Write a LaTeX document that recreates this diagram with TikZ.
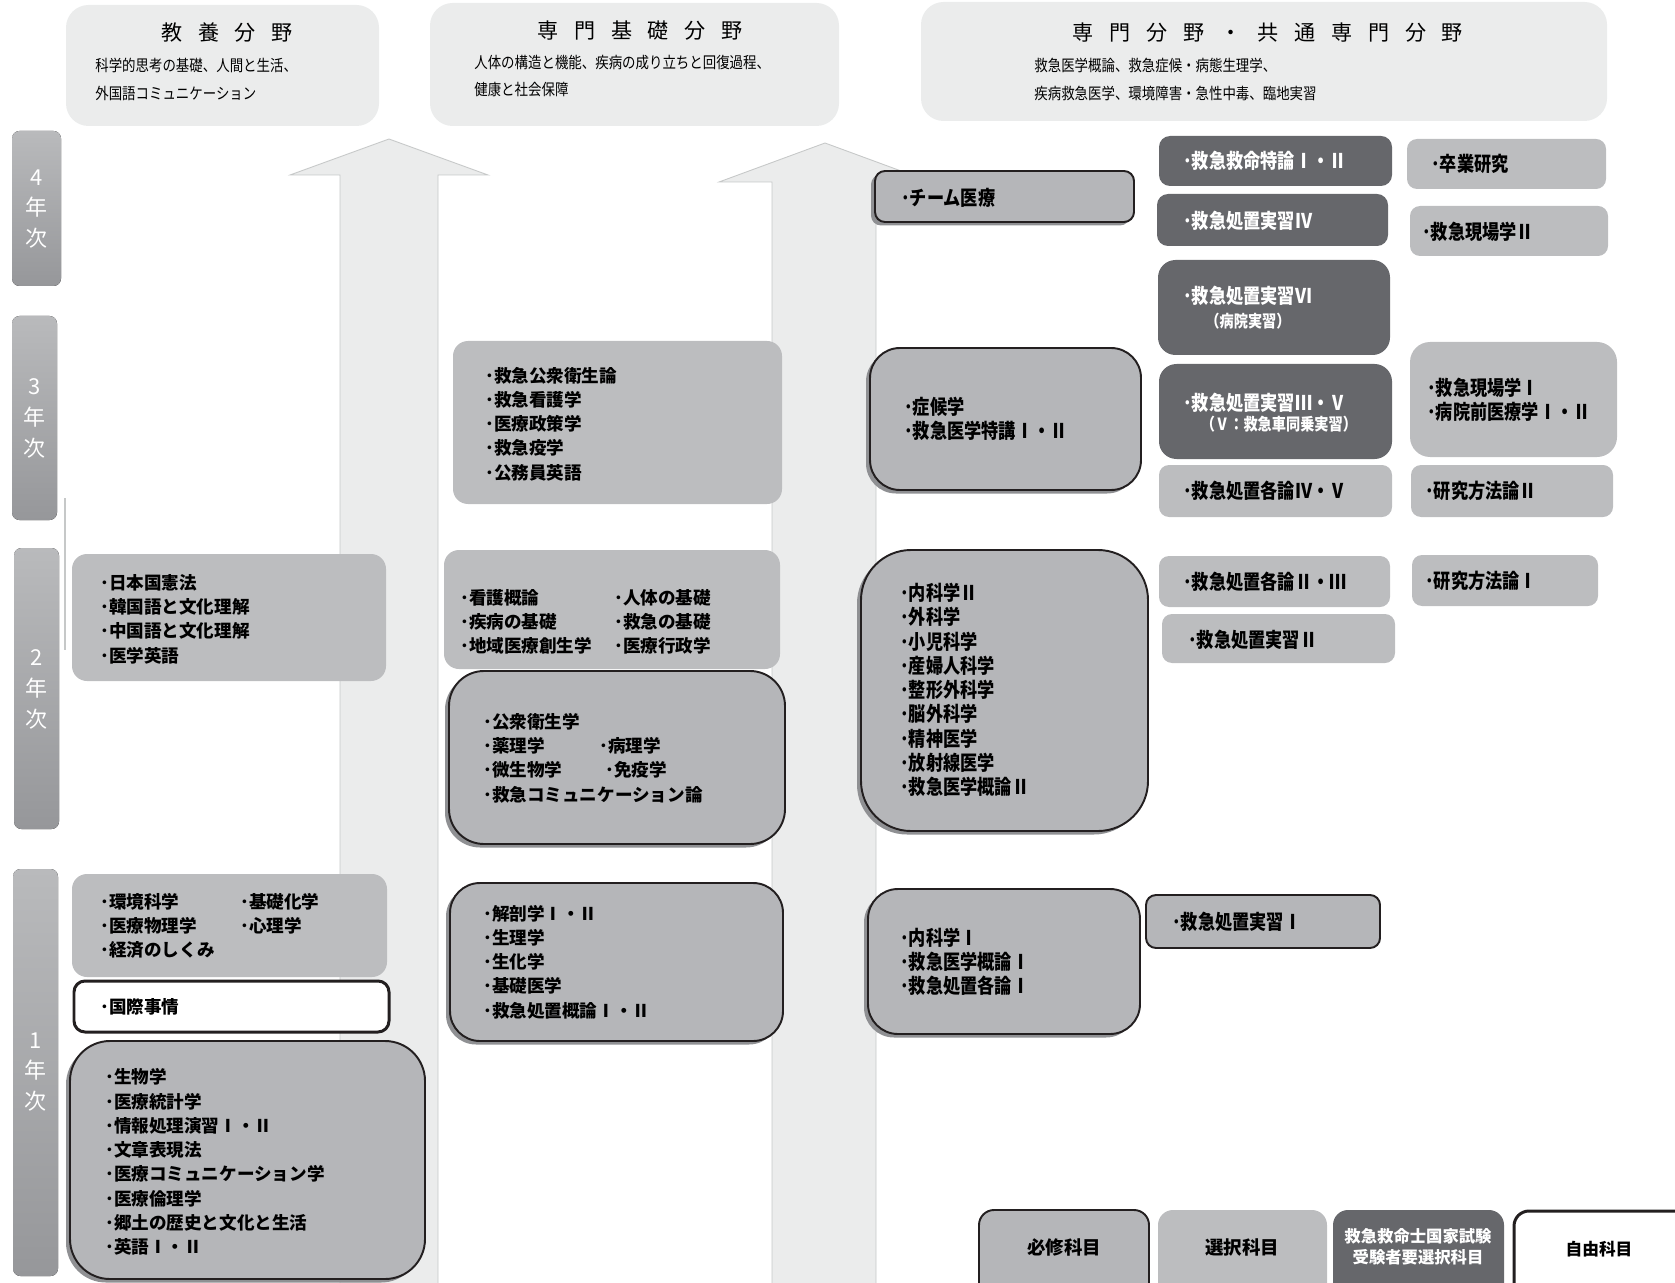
\documentclass[tikz,border=0pt]{standalone}
\usepackage{fontspec}
\setmainfont{Noto Sans CJK JP}
\newfontfamily\jpnarrow{Noto Sans CJK JP}[FakeStretch=0.85]
\newfontfamily\jptitle{Noto Sans CJK JP}[LetterSpace=75]
\usetikzlibrary{shadows}

\definecolor{headfill}{HTML}{EBECEC}
\definecolor{arrowline}{HTML}{C6C8C8}
\definecolor{lightfill}{HTML}{BCBDBF}
\definecolor{framefill}{HTML}{B5B6B9}
\definecolor{darkfill}{HTML}{66676B}
\definecolor{barTop}{HTML}{B9BABC}
\definecolor{barBot}{HTML}{96979A}
\definecolor{inkline}{HTML}{231F20}
\definecolor{shadegray}{HTML}{8F9093}

\begin{document}
\begin{tikzpicture}[x=0.02cm,y=-0.02cm,
  headbox/.style={fill=headfill,rounded corners=0.45cm},
  yearbar/.style={top color=barTop,bottom color=barBot,rounded corners=0.15cm},
  arrowbody/.style={fill=headfill,draw=arrowline,line width=0.5pt},
  lightbox/.style={fill=lightfill,rounded corners=0.3cm},
  framebox/.style={fill=framefill,draw=inkline,line width=1.1pt},
  shadowed/.style={drop shadow={shadow xshift=-0.08cm,shadow yshift=-0.07cm,fill=shadegray,opacity=1}},
  darkbox/.style={fill=darkfill,rounded corners=0.22cm},
  whitebox/.style={fill=white,draw=inkline,line width=1.7pt},
  yeartxt/.style={text=white,align=center,inner sep=0pt,font=\fontsize{12.5}{17.6}\selectfont},
  headtitle/.style={inner sep=0pt,font=\jptitle\fontsize{12}{14}\selectfont},
  headsub/.style={anchor=west,inner sep=0pt,font=\jpnarrow\fontsize{9}{11}\selectfont},
  subj/.style={anchor=west,align=left,inner sep=0pt,font=\bfseries\fontsize{10}{13.8}\selectfont},
  subjn/.style={anchor=west,align=left,inner sep=0pt,font=\jpnarrow\bfseries\fontsize{11.5}{13.8}\selectfont},
  subjw/.style={subjn,text=white},
  legendtxt/.style={inner sep=0pt,align=center,font=\bfseries\fontsize{10.5}{12}\selectfont}]

\useasboundingbox (0,0) rectangle (1675,1283);
\clip (0,0) rectangle (1675,1283);

% field headers
\fill[headbox] (66,5) rectangle (379,126);
\fill[headbox] (430,3) rectangle (839,126);
\fill[headbox] (921,2) rectangle (1607,121);
\node[headtitle] (kyoyo) at (227,33) {教養分野};
\node[headsub] (kyoyo1) at (95,65) {科学的思考の基礎、人間と生活、};
\node[headsub] (kyoyo2) at (95,93) {外国語コミュニケーション};
\node[headtitle] (kiso) at (640,31) {専門基礎分野};
\node[headsub] (kiso1) at (474,63) {人体の構造と機能、疾病の成り立ちと回復過程、};
\node[headsub] (kiso2) at (474,90) {健康と社会保障};
\node[headtitle] (senmon) at (1268,33) {専門分野・共通専門分野};
\node[headsub] (senmon1) at (1034,65) {救急医学概論、救急症候・病態生理学、};
\node[headsub] (senmon2) at (1034,93) {疾病救急医学、環境障害・急性中毒、臨地実習};

% big arrows
\filldraw[arrowbody] (340,1290) -- (340,175) -- (290,175) -- (389,139) -- (488,175) -- (438,175) -- (438,1290);
\filldraw[arrowbody] (772,1290) -- (772,182) -- (719,182) -- (825,143) -- (931,182) -- (876,182) -- (876,1290);
\draw[arrowline,line width=0.6pt] (65,498) -- (65,650);

% year bars
\fill[yearbar] (12,131) rectangle (61,286);
\fill[yearbar] (12,316) rectangle (57,520);
\fill[yearbar] (14,548) rectangle (59,829);
\fill[yearbar] (13,869) rectangle (58,1276);
\node[yeartxt] (yr4) at (36.5,209) {4\\年\\次};
\node[yeartxt] (yr3) at (34.5,418) {3\\年\\次};
\node[yeartxt] (yr2) at (36.5,689) {2\\年\\次};
\node[yeartxt] (yr1) at (35.5,1072) {1\\年\\次};

% kyoyo column
\fill[lightbox] (72,554) rectangle (386,681);
\node[subj] (kenpo) at (100,619) {･日本国憲法\\･韓国語と文化理解\\･中国語と文化理解\\･医学英語};
\fill[lightbox] (72,874) rectangle (387,977);
\node[subj] (kankyo) at (100,926) {･環境科学\\･医療物理学\\･経済のしくみ};
\node[subj] (kagaku) at (240,914) {･基礎化学\\･心理学};
\draw[whitebox,rounded corners=0.22cm] (74,981) rectangle (389,1032);
\node[subj] (kokusai) at (100,1007) {･国際事情};
\draw[framebox,shadowed,rounded corners=0.8cm] (70,1041) rectangle (425,1279);
\node[subj] (seibutsu) at (105,1162) {･生物学\\･医療統計学\\･情報処理演習Ⅰ・Ⅱ\\･文章表現法\\･医療コミュニケーション学\\･医療倫理学\\･郷土の歴史と文化と生活\\･英語Ⅰ・Ⅱ};

% kiso column
\fill[lightbox] (453,341) rectangle (782,504);
\node[subj] (koshu) at (485,424) {･救急公衆衛生論\\･救急看護学\\･医療政策学\\･救急疫学\\･公務員英語};
\fill[lightbox] (444,550) rectangle (780,669);
\node[subj] (kango) at (460,622) {･看護概論\\･疾病の基礎\\･地域医療創生学};
\node[subj] (jintai) at (614,622) {･人体の基礎\\･救急の基礎\\･医療行政学};
\draw[framebox,shadowed,rounded corners=0.7cm] (449,671) rectangle (785,844);
\node[subj] (eisei) at (483,758) {･公衆衛生学\\･薬理学\\･微生物学\\･救急コミュニケーション論};
\node[subj] (byori) at (599,746) {･病理学};
\node[subj] (meneki) at (605,770) {･免疫学};
\draw[framebox,shadowed,rounded corners=0.6cm] (450,883) rectangle (783,1041);
\node[subj] (kaibo) at (483,962) {･解剖学Ⅰ・Ⅱ\\･生理学\\･生化学\\･基礎医学\\･救急処置概論Ⅰ・Ⅱ};

% senmon column
\draw[framebox,shadowed,rounded corners=0.2cm] (875,171) rectangle (1134,222);
\node[subjn] (team) at (901,198) {･チーム医療};
\draw[framebox,shadowed,rounded corners=0.6cm] (870,348) rectangle (1141,490);
\node[subjn] (shoko) at (904,419) {･症候学\\･救急医学特講Ⅰ・Ⅱ};
\draw[framebox,shadowed,rounded corners=1cm] (861,550) rectangle (1148,831);
\node[subjn] (naika2) at (900,690) {･内科学Ⅱ\\･外科学\\･小児科学\\･産婦人科学\\･整形外科学\\･脳外科学\\･精神医学\\･放射線医学\\･救急医学概論Ⅱ};
\draw[framebox,shadowed,rounded corners=0.6cm] (868,889) rectangle (1140,1034);
\node[subjn] (naika1) at (900,962) {･内科学Ⅰ\\･救急医学概論Ⅰ\\･救急処置各論Ⅰ};

% practice column
\fill[darkbox] (1159,136) rectangle (1392,186);
\node[subjw] (tokuron) at (1183,161) {･救急救命特論Ⅰ・Ⅱ};
\fill[darkbox] (1157,194) rectangle (1388,246);
\node[subjw] (jisshu4) at (1183,221) {･救急処置実習Ⅳ};
\fill[darkbox,rounded corners=0.35cm] (1158,260) rectangle (1390,355);
\node[subjw] (jisshu6) at (1183,296) {･救急処置実習Ⅵ};
\node[subjw,anchor=center,font=\jpnarrow\bfseries\fontsize{9.5}{12}\selectfont] (byoin) at (1248,321) {（病院実習）};
\fill[darkbox,rounded corners=0.35cm] (1159,364) rectangle (1392,459);
\node[subjw] (jisshu35) at (1183,403) {･救急処置実習Ⅲ・Ⅴ};
\node[subjw,anchor=center,font=\jpnarrow\bfseries\fontsize{9.5}{12}\selectfont] (dojo) at (1279,424) {（Ⅴ：救急車同乗実習）};
\fill[lightbox,rounded corners=0.2cm] (1159,465) rectangle (1392,517);
\node[subjn] (kakuron45) at (1183,491) {･救急処置各論Ⅳ・Ⅴ};
\fill[lightbox,rounded corners=0.2cm] (1159,556) rectangle (1390,607);
\node[subjn] (kakuron23) at (1183,582) {･救急処置各論Ⅱ・Ⅲ};
\fill[lightbox,rounded corners=0.2cm] (1162,614) rectangle (1395,663);
\node[subjn] (jisshu2) at (1188,640) {･救急処置実習Ⅱ};
\draw[framebox,rounded corners=0.2cm] (1146,895) rectangle (1380,948);
\node[subjn] (jisshu1) at (1172,922) {･救急処置実習Ⅰ};

% right column
\fill[lightbox,rounded corners=0.2cm] (1407,139) rectangle (1606,189);
\node[subjn] (sotsugyo) at (1431,164) {･卒業研究};
\fill[lightbox,rounded corners=0.2cm] (1410,206) rectangle (1608,256);
\node[subjn] (genba2) at (1422,232) {･救急現場学Ⅱ};
\fill[lightbox,rounded corners=0.4cm] (1410,342) rectangle (1617,457);
\node[subjn] (genba1) at (1427,400) {･救急現場学Ⅰ\\･病院前医療学Ⅰ・Ⅱ};
\fill[lightbox,rounded corners=0.2cm] (1411,465) rectangle (1613,517);
\node[subjn] (hoho2) at (1425,491) {･研究方法論Ⅱ};
\fill[lightbox,rounded corners=0.2cm] (1412,555) rectangle (1598,606);
\node[subjn] (hoho1) at (1425,581) {･研究方法論Ⅰ};

% legend
\draw[framebox,rounded corners=0.3cm] (979,1210) rectangle (1149,1300);
\node[legendtxt] (hisshu) at (1064,1247) {必修科目};
\fill[lightbox] (1158,1210) rectangle (1327,1300);
\node[legendtxt] (sentaku) at (1242,1247) {選択科目};
\fill[darkbox,rounded corners=0.3cm] (1333,1210) rectangle (1504,1300);
\node[legendtxt,text=white,font=\bfseries\fontsize{9.3}{12}\selectfont] (kokka) at (1418,1247) {救急救命士国家試験\\受験者要選択科目};
\draw[whitebox,rounded corners=0.3cm] (1514,1211) rectangle (1700,1300);
\node[legendtxt,font=\bfseries\fontsize{9.5}{12}\selectfont] (jiyu) at (1599,1249) {自由科目};
\end{tikzpicture}
\end{document}
